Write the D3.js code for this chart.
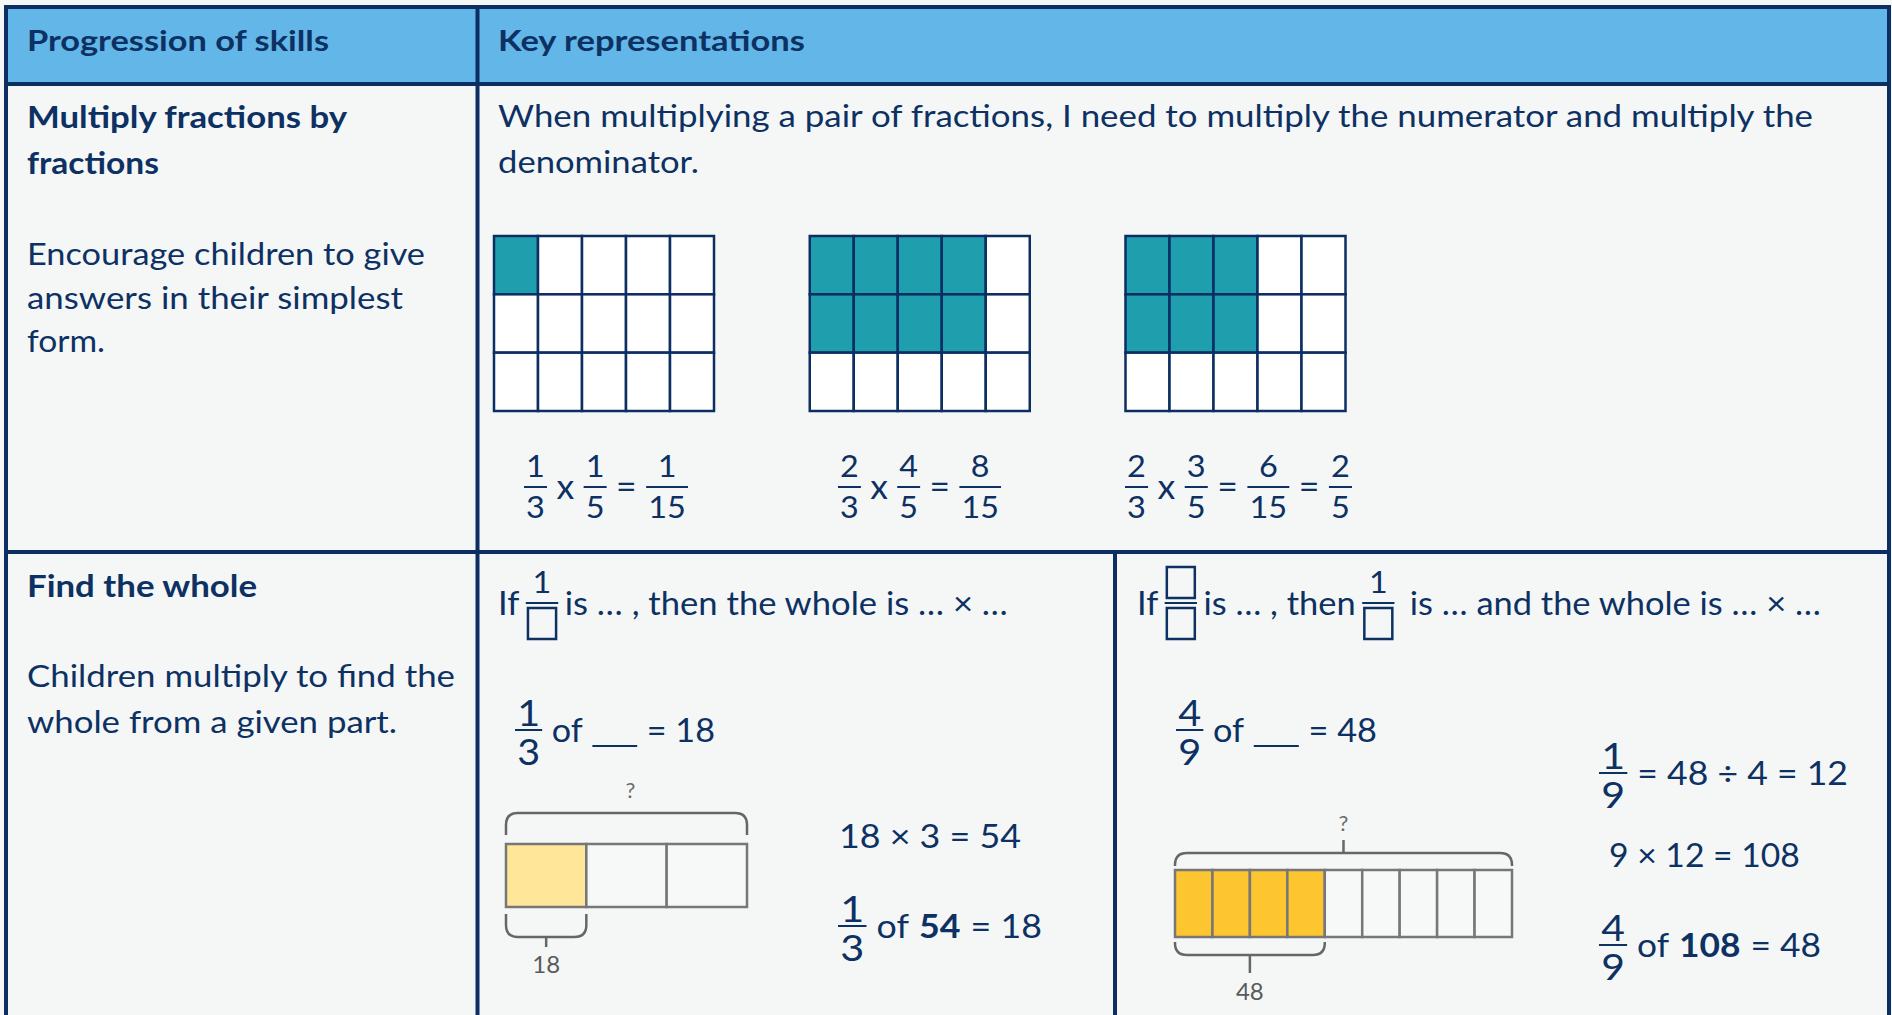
<!DOCTYPE html>
<html>
<head>
<meta charset="utf-8">
<script src="https://cdn.jsdelivr.net/npm/d3@7"></script>
<style>
  body { margin: 0; background: #f5f7f7; }
  svg { display: block; font-family: Lato, "Open Sans", sans-serif; }
</style>
</head>
<body>
<script>
var w = 1892;
var h = 1015;
var navy = "#0c2e63";
var ink = "#0d3162";

// table text
var headerLabels = ["Progression of skills", "Key representations"];
var skill1Title = ["Multiply fractions by", "fractions"];
var skill1Notes = ["Encourage children to give", "answers in their simplest", "form."];
var skill2Title = ["Find the whole"];
var skill2Notes = ["Children multiply to find the", "whole from a given part."];
var introLines = ["When multiplying a pair of fractions, I need to multiply the numerator and multiply the", "denominator."];

// area models (rows x cols, shaded rows x cols)
var gridRows = [3, 3, 3];
var gridCols = [5, 5, 5];
var shadeRows = [1, 2, 2];
var shadeCols = [1, 4, 3];
var gridEquations = [
  [{n: "1", d: "3"}, "x", {n: "1", d: "5"}, "=", {n: "1", d: "15"}],
  [{n: "2", d: "3"}, "x", {n: "4", d: "5"}, "=", {n: "8", d: "15"}],
  [{n: "2", d: "3"}, "x", {n: "3", d: "5"}, "=", {n: "6", d: "15"}, "=", {n: "2", d: "5"}]
];

// bar models
var barParts = [3, 9];
var barShaded = [1, 4];
var barPartLabels = ["18", "48"];
var barWholeLabels = ["?", "?"];
var barFills = ["#ffe699", "#fdc52f"];

// find the whole: sentences and working
var prompt1 = ["If", {n: "1", d: null}, "is … , then the whole is … × …"];
var prompt2 = ["If", {n: null, d: null}, "is … , then", {n: "1", d: null}, " is … and the whole is … × …"];
var problem1 = [{n: "1", d: "3"}, "of", {blank: 42}, "= 18"];
var working1 = [
  ["18 × 3 = 54"],
  [{n: "1", d: "3"}, "of", {t: "54", b: true}, "= 18"]
];
var problem2 = [{n: "4", d: "9"}, "of", {blank: 42}, "= 48"];
var working2 = [
  [{n: "1", d: "9"}, "= 48 ÷ 4 = 12"],
  ["9 × 12 = 108"],
  [{n: "4", d: "9"}, "of", {t: "108", b: true}, "= 48"]
];

var svg = d3.select("body").append("svg")
  .attr("width", w)
  .attr("height", h);

//Plain line of text squeezed to the width it has in the picture
function textLine(s, x, y, size, width, bold) {
  var t = svg.append("text")
    .attr("x", x)
    .attr("y", y)
    .attr("font-size", size)
    .attr("font-weight", bold ? 700 : 400)
    .attr("fill", ink)
    .text(s);
  if (width) {
    t.attr("textLength", width).attr("lengthAdjust", "spacingAndGlyphs");
  }
  return t;
}

//Line of maths: words, fractions, blanks, boxes
function mathLine(tokens, o) {
  var g = svg.append("g");
  var cx = 0;
  var bar = -o.barOff;
  tokens.forEach(function(tk, i) {
    if (i > 0) cx += o.gap;
    if (typeof tk === "string" || tk.t) {
      var s = typeof tk === "string" ? tk : tk.t;
      var t = g.append("text")
        .attr("x", cx)
        .attr("y", 0)
        .attr("font-size", o.size)
        .attr("font-weight", tk.b ? 700 : 400)
        .attr("fill", ink)
        .style("white-space", "pre")
        .text(s);
      cx += t.node().getComputedTextLength();
    } else if (tk.blank) {
      g.append("line")
        .attr("x1", cx).attr("x2", cx + tk.blank)
        .attr("y1", 4).attr("y2", 4)
        .attr("stroke", ink)
        .attr("stroke-width", 2);
      cx += tk.blank;
    } else {
      var parts = [tk.n, tk.d];
      var tw = parts.map(function(p) {
        if (p === null) return o.box[0];
        var tmp = g.append("text").attr("font-size", o.fracSize).text(p);
        var len = tmp.node().getComputedTextLength();
        tmp.remove();
        return len;
      });
      var fw = d3.max(tw) + 4;
      parts.forEach(function(p, k) {
        if (p === null) {
          g.append("rect")
            .attr("x", cx + (fw - o.box[0]) / 2)
            .attr("y", k === 0 ? bar - o.boxGap - o.box[1] : bar + o.boxGap)
            .attr("width", o.box[0])
            .attr("height", o.box[1])
            .attr("fill", "none")
            .attr("stroke", ink)
            .attr("stroke-width", 2.5)
            .attr("vector-effect", "non-scaling-stroke");
        } else {
          g.append("text")
            .attr("x", cx + fw / 2)
            .attr("y", k === 0 ? bar - o.numGap : bar + o.denGap)
            .attr("text-anchor", "middle")
            .attr("font-size", o.fracSize)
            .attr("fill", ink)
            .text(p);
        }
      });
      g.append("line")
        .attr("x1", cx).attr("x2", cx + fw)
        .attr("y1", bar).attr("y2", bar)
        .attr("stroke", ink)
        .attr("stroke-width", 2);
      cx += fw;
    }
  });
  var sx = o.width ? o.width / cx : 1;
  g.attr("transform", "translate(" + o.x + "," + o.y + ") scale(" + sx + ",1)");
}

//Table frame
var tLeft = 6, tRight = 1889, tTop = 7, headBottom = 84, colX = 477.5, rowY = 552, col2X = 1115;

svg.append("rect")
  .attr("x", tLeft).attr("y", tTop)
  .attr("width", tRight - tLeft).attr("height", headBottom - tTop)
  .attr("fill", "#63b7e8");

var frame = [
  [tLeft, tTop, tRight, tTop],
  [tLeft, tTop, tLeft, h],
  [tRight, tTop, tRight, h],
  [tLeft, headBottom, tRight, headBottom],
  [colX, tTop, colX, h],
  [tLeft, rowY, tRight, rowY],
  [col2X, rowY, col2X, h]
];
svg.selectAll(".frame")
  .data(frame)
  .enter()
  .append("line")
  .attr("class", "frame")
  .attr("x1", function(d) { return d[0]; })
  .attr("y1", function(d) { return d[1]; })
  .attr("x2", function(d) { return d[2]; })
  .attr("y2", function(d) { return d[3]; })
  .attr("stroke", navy)
  .attr("stroke-width", 4)
  .attr("stroke-linecap", "square");

//Header
textLine(headerLabels[0], 27, 51, 29, 302, true);
textLine(headerLabels[1], 498, 51, 29, 307, true);

//Left column
var titleW1 = [320, 132], notesW1 = [398, 376, 78];
skill1Title.forEach(function(s, i) { textLine(s, 27, 128 + i * 46, 30, titleW1[i], true); });
skill1Notes.forEach(function(s, i) { textLine(s, 27, 265 + i * 43.5, 30, notesW1[i], false); });
textLine(skill2Title[0], 27, 597, 30, 230, true);
var notesW2 = [428, 370];
skill2Notes.forEach(function(s, i) { textLine(s, 27, 687 + i * 46, 30, notesW2[i], false); });

//Intro sentence
var introW = [1315, 201];
introLines.forEach(function(s, i) { textLine(s, 498, 127 + i * 46, 30, introW[i], false); });

//Area models
var gridW = 220, gridH = 175, gridTop = 236;
var gridLeft = d3.scaleLinear().domain([0, 2]).range([494, 1125.5]);
var eqLeft = [524, 838, 1125];
var eqWidth = [164, 163, 227];

gridCols.forEach(function(nc, gi) {
  var gx = gridLeft(gi);
  var xBand = d3.scaleBand().domain(d3.range(nc)).range([gx, gx + gridW]);
  var yBand = d3.scaleBand().domain(d3.range(gridRows[gi])).range([gridTop, gridTop + gridH]);
  var cells = [];
  d3.range(gridRows[gi]).forEach(function(r) {
    d3.range(nc).forEach(function(c) {
      cells.push({r: r, c: c, on: r < shadeRows[gi] && c < shadeCols[gi]});
    });
  });
  svg.append("g").selectAll("rect")
    .data(cells)
    .enter()
    .append("rect")
    .attr("x", function(d) { return xBand(d.c); })
    .attr("y", function(d) { return yBand(d.r); })
    .attr("width", xBand.bandwidth())
    .attr("height", yBand.bandwidth())
    .attr("fill", function(d) { return d.on ? "#1f9fad" : "#ffffff"; })
    .attr("stroke", navy)
    .attr("stroke-width", 2.5);

  mathLine(gridEquations[gi], {
    x: eqLeft[gi], y: 499, width: eqWidth[gi],
    size: 34, fracSize: 31, barOff: 12, numGap: 10, denGap: 31, gap: 9
  });
});

//Sentence starters
var promptStyle = {y: 615, size: 32, fracSize: 30, barOff: 12, numGap: 10, denGap: 31, gap: 6, box: [26, 31], boxGap: 5};
mathLine(prompt1, Object.assign({}, promptStyle, {x: 498, width: 510}));
mathLine(prompt2, Object.assign({}, promptStyle, {x: 1137, width: 684}));

//Problems and working
var workStyle = {size: 32, fracSize: 37, barOff: 12, numGap: 4, denGap: 35, gap: 9};
mathLine(problem1, Object.assign({}, workStyle, {x: 515, y: 742, width: 200}));
mathLine(working1[0], Object.assign({}, workStyle, {x: 839, y: 848, width: 182}));
mathLine(working1[1], Object.assign({}, workStyle, {x: 838, y: 938, width: 204}));
mathLine(problem2, Object.assign({}, workStyle, {x: 1176, y: 742, width: 201}));
mathLine(working2[0], Object.assign({}, workStyle, {x: 1599, y: 785, width: 249}));
mathLine(working2[1], Object.assign({}, workStyle, {x: 1609, y: 867, width: 191}));
mathLine(working2[2], Object.assign({}, workStyle, {x: 1599, y: 957, width: 222}));

//Bar models
var barBox = [
  {x: 506, y: 844, w: 241, h: 63, topY: 813, topEnd: 835, topTick: 0, qY: 798, botY: 937, botEnd: 914, botTick: 947, labY: 973},
  {x: 1175, y: 870, w: 337, h: 67, topY: 853, topEnd: 866, topTick: 840, qY: 831, botY: 955, botEnd: 942, botTick: 973, labY: 1000}
];

function brace(x0, x1, yFlat, yEnd, r) {
  var dir = yEnd > yFlat ? 1 : -1;
  return "M" + x0 + "," + yEnd +
    "L" + x0 + "," + (yFlat + dir * r) +
    "Q" + x0 + "," + yFlat + " " + (x0 + r) + "," + yFlat +
    "L" + (x1 - r) + "," + yFlat +
    "Q" + x1 + "," + yFlat + " " + x1 + "," + (yFlat + dir * r) +
    "L" + x1 + "," + yEnd;
}

barParts.forEach(function(np, bi) {
  var b = barBox[bi];
  var xBand = d3.scaleBand().domain(d3.range(np)).range([b.x, b.x + b.w]);
  var g = svg.append("g");
  g.selectAll("rect")
    .data(d3.range(np))
    .enter()
    .append("rect")
    .attr("x", function(d) { return xBand(d); })
    .attr("y", b.y)
    .attr("width", xBand.bandwidth())
    .attr("height", b.h)
    .attr("fill", function(d) { return d < barShaded[bi] ? barFills[bi] : "#f7f8f8"; })
    .attr("stroke", "#777777")
    .attr("stroke-width", 2.5);

  var mid = b.x + b.w / 2;
  g.append("path")
    .attr("d", brace(b.x, b.x + b.w, b.topY, b.topEnd, 12))
    .attr("fill", "none").attr("stroke", "#666666").attr("stroke-width", 2.5);
  if (b.topTick) {
    g.append("line")
      .attr("x1", mid).attr("x2", mid)
      .attr("y1", b.topY).attr("y2", b.topTick)
      .attr("stroke", "#666666").attr("stroke-width", 2.5);
  }
  g.append("text")
    .attr("x", mid + (b.topTick ? 0 : 4))
    .attr("y", b.qY)
    .attr("text-anchor", "middle")
    .attr("font-size", 22)
    .attr("fill", "#6b6b6b")
    .text(barWholeLabels[bi]);

  var bx1 = xBand(barShaded[bi] - 1) + xBand.bandwidth();
  var bmid = (b.x + bx1) / 2;
  g.append("path")
    .attr("d", brace(b.x, bx1, b.botY, b.botEnd, 12))
    .attr("fill", "none").attr("stroke", "#666666").attr("stroke-width", 2.5);
  g.append("line")
    .attr("x1", bmid).attr("x2", bmid)
    .attr("y1", b.botY).attr("y2", b.botTick)
    .attr("stroke", "#666666").attr("stroke-width", 2.5);
  g.append("text")
    .attr("x", bmid)
    .attr("y", b.labY)
    .attr("text-anchor", "middle")
    .attr("font-size", 24)
    .attr("fill", "#5a5a5a")
    .text(barPartLabels[bi]);
});
</script>
</body>
</html>
